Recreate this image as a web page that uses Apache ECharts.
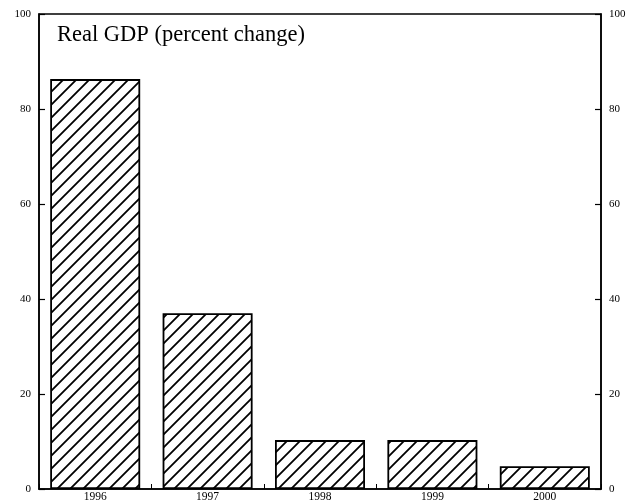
<!DOCTYPE html>
<html><head><meta charset="utf-8">
<script src="https://cdn.jsdelivr.net/npm/echarts@6/dist/echarts.min.js"></script>
<style>html,body{margin:0;padding:0;background:#fff}#c{width:631px;height:504px}</style>
</head><body><div id="c"></div>
<script>
var categories = ['1996', '1997', '1998', '1999', '2000'];
var values = [86.3, 37.0, 10.3, 10.3, 4.8];
var yTicks = [0, 20, 40, 60, 80, 100];
var title = 'Real GDP (percent change)';

function hatch() {
  var s = 13;
  var cv = document.createElement('canvas');
  cv.width = s; cv.height = s;
  var g = cv.getContext('2d');
  g.fillStyle = '#fff'; g.fillRect(0, 0, s, s);
  g.strokeStyle = '#000'; g.lineWidth = 1.8;
  g.beginPath();
  g.moveTo(-2, s + 2); g.lineTo(s + 2, -2);
  g.moveTo(-2, 2); g.lineTo(2, -2);
  g.moveTo(s - 2, s + 2); g.lineTo(s + 2, s - 2);
  g.stroke();
  return cv;
}

var font = 'Liberation Serif';
var chart = echarts.init(document.getElementById('c'));
var yAxisBase = {
  type: 'value', min: 0, max: 100, interval: 20,
  axisLine: { show: true, lineStyle: { color: '#000', width: 1.5 } },
  axisTick: { show: true, inside: true, length: 6, lineStyle: { color: '#000', width: 1.2 } },
  splitLine: { show: false },
  axisLabel: { color: '#000', fontFamily: font, fontSize: 11, margin: 8,
    formatter: function (v) { return yTicks.indexOf(v) >= 0 ? String(v) : ''; } }
};
chart.setOption({
  animation: false,
  backgroundColor: '#fff',
  grid: { left: 39, right: 30, top: 14, bottom: 15, show: true, borderColor: '#000', borderWidth: 1.5, backgroundColor: 'transparent' },
  title: { text: title, left: 52, top: 19, textStyle: { fontFamily: font, fontWeight: 'normal', fontSize: 22.5, color: '#000' } },
  xAxis: {
    type: 'category', data: categories,
    axisLine: { show: true, lineStyle: { color: '#000', width: 1.5 } },
    axisTick: { show: true, inside: true, length: 5, alignWithLabel: false, lineStyle: { color: '#000' } },
    axisLabel: { color: '#000', fontFamily: font, fontSize: 11.5, margin: 2 }
  },
  yAxis: [
    Object.assign({}, yAxisBase, { position: 'left' }),
    Object.assign({}, yAxisBase, { position: 'right' })
  ],
  series: [{
    type: 'bar', data: values, barWidth: 90,
    itemStyle: { color: { image: hatch(), repeat: 'repeat' }, borderColor: '#000', borderWidth: 1.8 }
  }]
});
</script></body></html>
